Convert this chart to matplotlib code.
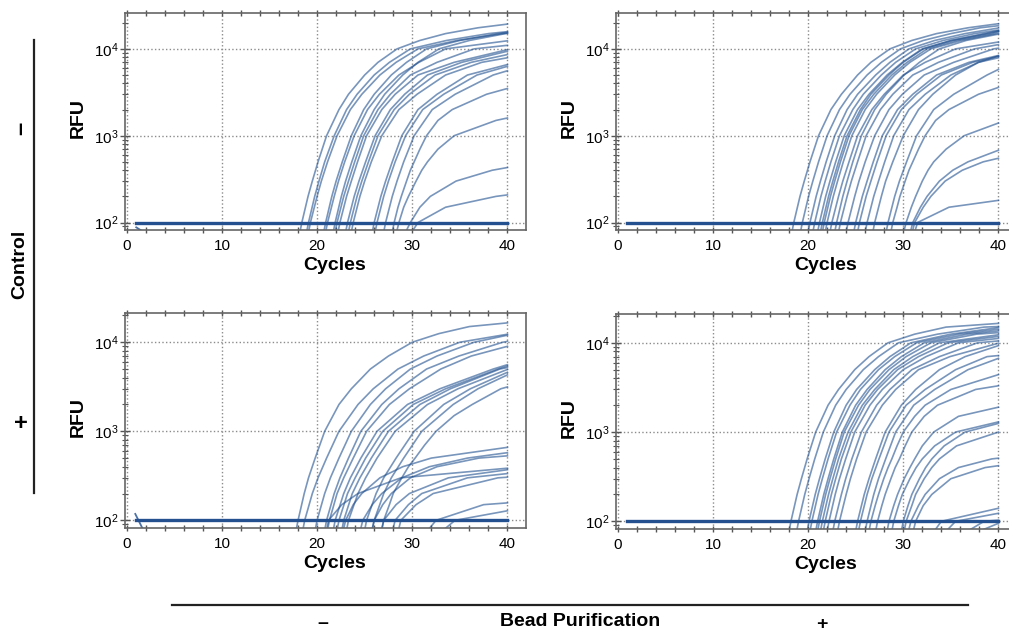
import matplotlib.pyplot as plt
from matplotlib.lines import Line2D
from matplotlib.ticker import LogLocator, MultipleLocator, NullFormatter

plt.rcParams['font.family'] = ['Liberation Sans', 'DejaVu Sans']

# Each curve is given as the cycle where it crosses each RFU level,
# then its RFU at the last cycle. Strong curves use high_levels,
# weak / late curves use low_levels.
high_levels = [60, 100, 200, 300, 500, 1000, 2000, 3000, 5000, 7000, 10000,
               12500, 15000, 17500]
low_levels = [60, 100, 150, 200, 300, 400, 500, 700, 1000, 1500, 2000, 3000]
threshold = 100
last_cycle = 40

# control -, beads -
tl_cross = [
    [18.0, 18.4, 19.05, 19.5, 20.1, 21.0, 22.3, 23.3, 25.0, 26.4, 28.4, 30.8, 33.5, 36.9],
    [18.7, 19.1, 19.75, 20.2, 20.8, 21.8, 23.1, 24.2, 26.0, 27.6, 29.8, 33.6, 38.0],
    [18.9, 19.3, 20.0, 20.45, 21.1, 22.1, 23.5, 24.7, 26.6, 28.3, 30.6, 34.7, 39.5],
    [20.5, 20.9, 21.55, 22.0, 22.65, 23.6, 24.9, 26.0, 27.8, 29.4, 31.5, 35.0, 39.0],
    [20.7, 21.1, 21.8, 22.25, 22.9, 23.9, 25.3, 26.55, 28.6, 30.7, 33.5],
    [21.5, 21.9, 22.55, 23.0, 23.65, 24.6, 26.0, 27.1, 29.0, 30.6, 32.8, 36.0, 39.8],
    [21.7, 22.1, 22.8, 23.3, 23.95, 24.9, 26.4, 27.7, 29.8, 32.6, 36.5],
    [22.0, 22.4, 23.1, 23.6, 24.25, 25.2, 26.8, 28.2, 30.6, 34.4],
    [22.8, 23.2, 23.9, 24.4, 25.1, 26.1, 27.7, 29.2, 31.6, 35.2],
    [23.1, 23.5, 24.2, 24.7, 25.4, 26.4, 28.1, 29.7, 32.4, 36.2],
    [23.4, 23.8, 24.5, 25.0, 25.7, 26.8, 28.6, 30.5, 33.5, 37.3],
    [25.6, 26.0, 26.7, 27.2, 27.9, 28.9, 30.6, 32.6, 35.8],
    [25.9, 26.3, 27.0, 27.5, 28.2, 29.3, 31.1, 33.3, 36.8],
    [26.8, 27.2, 27.9, 28.4, 29.1, 30.2, 32.1, 34.5, 38.5],
]
tl_end = [19300, 15800, 15200, 15500, 12400, 15100, 11000, 9800, 9400,
          8600, 7900, 6600, 6300, 5600]
tl_low_cross = [
    [27.7, 28.1, 28.5, 28.85, 29.4, 29.8, 30.2, 30.8, 31.5, 32.7, 34.2, 37.8],
    [28.1, 28.6, 29.1, 29.6, 30.4, 31.0, 31.6, 32.7, 34.4, 38.8],
    [28.8, 29.8, 30.8, 31.9, 34.6, 38.4],
    [29.3, 30.6, 33.5, 38.8],
]
tl_low_end = [3500, 1600, 430, 208]

# control -, beads +
tr_cross = [
    [18.1, 18.5, 19.15, 19.6, 20.2, 21.1, 22.4, 23.5, 25.2, 26.6, 28.6, 30.9, 33.5, 36.8],
    [19.0, 19.4, 20.05, 20.5, 21.1, 22.0, 23.3, 24.4, 26.2, 27.7, 29.7, 32.1, 35.0, 38.1],
    [19.8, 20.2, 20.85, 21.3, 21.9, 22.8, 24.1, 25.2, 27.1, 28.6, 30.6, 33.3, 36.5],
    [20.3, 20.7, 21.35, 21.8, 22.4, 23.3, 24.7, 25.8, 27.7, 29.2, 31.3, 34.2, 37.5],
    [20.8, 21.2, 21.85, 22.3, 22.9, 23.8, 25.2, 26.4, 28.3, 29.9, 32.0, 35.1, 38.8],
    [21.1, 21.5, 22.15, 22.6, 23.2, 24.1, 25.5, 26.6, 28.5, 30.0, 32.1, 35.0, 38.5],
    [21.3, 21.7, 22.35, 22.8, 23.4, 24.3, 25.7, 26.9, 28.8, 30.4, 32.5, 35.6, 39.3],
    [21.6, 22.0, 22.65, 23.1, 23.7, 24.6, 26.0, 27.2, 29.1, 30.7, 32.9, 36.1, 39.8],
    [22.1, 22.5, 23.2, 23.65, 24.3, 25.2, 26.7, 28.0, 30.0, 32.3, 35.5],
    [22.6, 23.0, 23.65, 24.1, 24.7, 25.6, 27.0, 28.2, 30.1, 31.7, 33.8, 36.6],
    [23.0, 23.4, 24.1, 24.55, 25.2, 26.1, 27.6, 28.9, 31.0, 33.7, 37.5],
    [23.8, 24.2, 24.9, 25.35, 26.0, 27.0, 28.5, 29.9, 32.2, 35.3, 39.5],
    [24.6, 25.0, 25.7, 26.2, 26.85, 27.8, 29.4, 31.0, 33.5, 36.9],
    [25.0, 25.4, 26.1, 26.6, 27.25, 28.2, 29.8, 31.4, 34.0, 37.3],
    [25.8, 26.2, 26.9, 27.4, 28.05, 29.0, 30.6, 32.3, 35.0, 37.9],
    [26.6, 27.0, 27.7, 28.15, 28.9, 30.0, 31.6, 33.1, 35.5, 37.9],
    [28.0, 28.4, 29.1, 29.6, 30.35, 31.4, 33.2, 35.3, 38.8],
]
tr_end = [19500, 18500, 17400, 16500, 16000, 16200, 15800, 15200, 12000,
          14800, 11200, 10200, 8400, 8200, 7900, 8300, 5800]
tr_low_cross = [
    [28.5, 28.9, 29.35, 29.65, 30.2, 30.6, 31.0, 31.6, 32.3, 33.4, 34.8, 37.9],
    [29.8, 30.3, 30.85, 31.3, 32.0, 32.6, 33.2, 34.5, 36.4],
    [30.5, 31.0, 31.8, 32.5, 33.8, 35.2, 36.8],
    [30.7, 31.2, 32.1, 32.9, 34.4, 36.2, 38.4],
    [30.9, 31.5, 34.8],
]
tr_low_end = [3600, 1400, 680, 550, 180]

# control +, beads -
bl_cross = [
    [17.6, 18.0, 18.65, 19.1, 19.8, 20.8, 22.3, 23.6, 25.6, 27.5, 30.0, 32.8, 36.0],
    [18.3, 18.7, 19.5, 20.1, 21.0, 22.3, 24.3, 25.9, 28.5, 31.2, 35.0],
    [19.6, 20.0, 20.8, 21.4, 22.3, 23.6, 25.6, 27.2, 29.8, 32.6, 36.5],
    [20.6, 21.0, 21.8, 22.4, 23.3, 24.6, 26.8, 28.6, 31.5, 34.9, 39.5],
    [20.9, 21.3, 22.1, 22.8, 23.8, 25.2, 27.6, 29.7, 33.0, 36.2],
    [21.5, 21.9, 22.8, 23.5, 24.6, 26.3, 29.5, 32.9, 38.5],
    [21.9, 22.3, 23.2, 24.0, 25.1, 26.9, 30.1, 33.5, 39.0],
    [22.4, 22.8, 23.7, 24.5, 25.7, 27.5, 30.8, 34.0, 39.2],
    [22.9, 23.3, 24.3, 25.1, 26.3, 28.2, 31.6, 34.8],
    [24.8, 25.2, 26.2, 27.0, 28.3, 30.2, 33.3, 36.1],
    [25.6, 26.0, 27.0, 27.8, 29.1, 31.0, 34.3, 36.9],
]
bl_end = [16500, 12300, 12000, 10200, 9000, 5600, 5400, 5200, 4950, 4600,
          4300]
bl_low_cross = [
    [26.6, 27.0, 27.6, 28.0, 28.9, 29.6, 30.3, 31.3, 32.5, 34.4, 36.3, 39.3],
    [20.8, 21.2, 22.6, 24.3, 28.8],
    [22.5, 23.0, 23.8, 24.7, 26.6, 29.0, 32.0],
    [24.3, 24.8, 25.8, 26.8, 28.9, 31.8, 35.8],
    [25.5, 26.0, 26.9, 27.8, 29.8, 32.6, 37.0],
    [26.5, 27.0, 28.3, 29.7, 33.8],
    [27.7, 28.2, 29.6, 31.0, 35.8],
    [28.3, 28.8, 30.4, 32.2, 39.0],
    [30.8, 32.5, 37.5],
    [32.0, 34.5],
]
bl_low_end = [3150, 385, 660, 575, 530, 370, 335, 305, 157, 128]

# control +, beads +
br_cross = [
    [17.8, 18.2, 18.85, 19.3, 19.9, 20.8, 22.1, 23.2, 24.9, 26.4, 28.4, 31.2, 34.5],
    [18.6, 19.0, 19.65, 20.1, 20.7, 21.6, 22.9, 24.0, 25.8, 27.4, 29.5, 33.6, 38.5],
    [19.7, 20.1, 20.75, 21.2, 21.8, 22.7, 24.0, 25.1, 27.0, 28.6, 30.8, 35.0],
    [20.0, 20.4, 21.05, 21.5, 22.1, 23.0, 24.4, 25.5, 27.4, 29.1, 31.4, 35.8],
    [20.6, 21.0, 21.65, 22.1, 22.7, 23.6, 25.0, 26.2, 28.1, 29.8, 32.2, 36.7],
    [20.8, 21.2, 21.85, 22.3, 22.9, 23.8, 25.3, 26.5, 28.5, 30.3, 32.9, 37.7],
    [21.1, 21.5, 22.15, 22.6, 23.2, 24.2, 25.7, 27.0, 29.0, 31.0, 33.8],
    [21.4, 21.8, 22.45, 22.9, 23.5, 24.5, 26.0, 27.3, 29.4, 31.6, 34.7],
    [21.8, 22.2, 22.85, 23.3, 23.95, 24.9, 26.5, 27.8, 30.0, 32.4, 35.8],
    [22.4, 22.8, 23.5, 23.95, 24.6, 25.6, 27.2, 28.6, 30.9, 33.8, 37.8],
    [22.9, 23.3, 24.0, 24.45, 25.1, 26.1, 27.8, 29.2, 31.6, 34.9],
    [24.8, 25.2, 25.9, 26.4, 27.1, 28.1, 29.8, 31.3, 33.8, 36.5],
    [25.1, 25.5, 26.2, 26.7, 27.45, 28.5, 30.3, 32.3, 35.5, 38.8],
    [25.8, 26.2, 26.9, 27.4, 28.15, 29.2, 31.1, 33.3, 36.8],
]
br_end = [16500, 15200, 14800, 14200, 13600, 13000, 12300, 11800, 11200,
          10500, 9900, 9300, 7200, 6700]
br_low_cross = [
    [26.2, 26.6, 27.05, 27.4, 27.95, 28.4, 28.8, 29.35, 30.0, 31.2, 32.3, 35.0],
    [26.9, 27.3, 27.75, 28.1, 28.7, 29.15, 29.6, 30.2, 30.9, 32.2, 33.6, 37.6],
    [28.1, 28.5, 29.0, 29.4, 30.1, 30.7, 31.2, 32.0, 33.2, 35.8],
    [28.6, 29.0, 29.5, 29.9, 30.7, 31.35, 32.0, 33.3, 35.5],
    [29.6, 30.0, 30.5, 30.9, 31.7, 32.35, 33.0, 34.3, 36.5],
    [29.9, 30.3, 30.9, 31.3, 32.2, 33.0, 33.8, 35.6],
    [30.3, 30.8, 31.6, 32.3, 33.8, 35.8, 39.3],
    [30.8, 31.3, 32.1, 33.0, 35.0, 38.6],
    [32.5, 34.0],
    [33.5, 35.5],
    [35.0, 38.5],
    [35.5],
]
br_low_end = [4400, 3300, 1900, 1300, 1250, 1000, 510, 420, 140, 123, 103, 95]

# short traces at the first cycles
tl_early_x, tl_early_y = [1.0, 2.0], [88, 75]
bl_early_x, bl_early_y = [0.9, 1.9], [118, 72]

curve_color = '#1f4f8f'
W, H = 1009, 635


def draw_curves(ax, levels, cross, end):
    for row, f40 in zip(cross, end):
        xs = list(row) + [last_cycle]
        ys = levels[:len(row)] + [f40]
        ax.plot(xs, ys, color=curve_color, alpha=0.6, lw=1.2,
                solid_joinstyle='round')


def draw_panel(rect, cross, end, low_cross, low_end, ytop, early=None):
    ax = fig.add_axes(rect)
    draw_curves(ax, high_levels, cross, end)
    draw_curves(ax, low_levels, low_cross, low_end)
    if early is not None:
        ax.plot(early[0], early[1], color=curve_color, alpha=0.8, lw=1.3)
    ax.plot([1, last_cycle], [threshold, threshold], color='#24508f', lw=2.4)

    ax.set_yscale('log')
    ax.set_xlim(-0.18, 41.95)
    ax.set_ylim(82, ytop)
    ax.xaxis.set_major_locator(MultipleLocator(10))
    ax.xaxis.set_minor_locator(MultipleLocator(2))
    ax.yaxis.set_major_locator(LogLocator(base=10, numticks=10))
    ax.yaxis.set_minor_locator(LogLocator(base=10, subs=range(2, 10), numticks=10))
    ax.yaxis.set_minor_formatter(NullFormatter())
    ax.grid(True, which='major', ls=':', color='#8c8c8c', lw=1.0)
    ax.tick_params(axis='x', which='both', direction='inout', top=True,
                   length=5, width=1, color='#555555', labelsize=11, pad=4)
    ax.tick_params(axis='y', which='major', direction='inout', length=7,
                   width=1, color='#555555', labelsize=11, pad=1)
    ax.tick_params(axis='y', which='minor', direction='inout', length=4,
                   width=0.8, color='#555555')
    for s in ax.spines.values():
        s.set_color('#666666')
        s.set_linewidth(1.2)
    ax.set_xlabel('Cycles', fontsize=14, fontweight='bold')
    ax.set_ylabel('RFU', fontsize=14, fontweight='bold')
    ax.xaxis.set_label_coords(0.522, -0.125)
    ax.yaxis.set_label_coords(-0.095, 0.517)
    return ax


fig = plt.figure(figsize=(W / 100, H / 100), dpi=100)

aw = 401 / W
draw_panel([125 / W, 1 - 230 / H, aw, 216.7 / H], tl_cross, tl_end,
           tl_low_cross, tl_low_end, 25700, (tl_early_x, tl_early_y))
draw_panel([616 / W, 1 - 230 / H, aw, 216.7 / H], tr_cross, tr_end,
           tr_low_cross, tr_low_end, 25700)
draw_panel([125 / W, 1 - 528 / H, aw, 215 / H], bl_cross, bl_end,
           bl_low_cross, bl_low_end, 21300, (bl_early_x, bl_early_y))
draw_panel([616 / W, 1 - 529 / H, aw, 215.5 / H], br_cross, br_end,
           br_low_cross, br_low_end, 21300)


def fx(x):
    return x / W


def fy(y):
    return 1 - y / H


# row annotation (Control)
fig.add_artist(Line2D([fx(34), fx(34)], [fy(40), fy(493)], color='#222222', lw=1.6))
fig.text(fx(21), fy(128), '–', rotation=90, fontsize=17, fontweight='bold',
         ha='center', va='center')
fig.text(fx(20), fy(264), 'Control', rotation=90, fontsize=14, fontweight='bold',
         ha='center', va='center')
fig.text(fx(21), fy(424), '+', fontsize=17, fontweight='bold',
         ha='center', va='center')

# column annotation (Bead Purification)
fig.add_artist(Line2D([fx(172), fx(968)], [fy(605), fy(605)], color='#222222', lw=1.6))
fig.text(fx(323), fy(624), '–', fontsize=14, fontweight='bold',
         ha='center', va='center')
fig.text(fx(580), fy(622), 'Bead Purification', fontsize=14, fontweight='bold',
         ha='center', va='center')
fig.text(fx(822), fy(624), '+', fontsize=14, fontweight='bold',
         ha='center', va='center')

fig.savefig('out.png', dpi=100)
